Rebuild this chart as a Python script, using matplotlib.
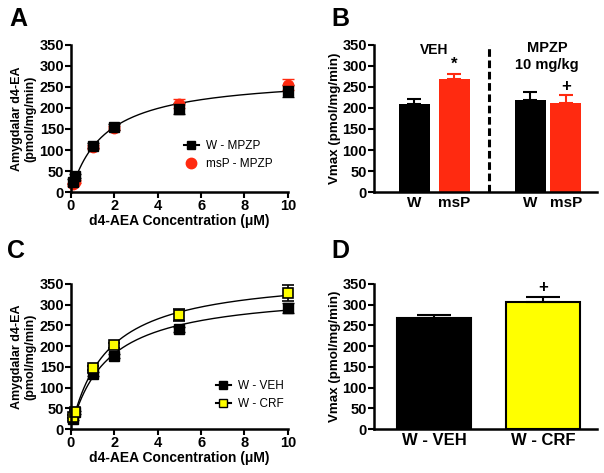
import matplotlib.pyplot as plt
import numpy as np

plt.rcParams['font.family'] = ['Liberation Sans', 'DejaVu Sans']
plt.rcParams['font.weight'] = 'bold'
plt.rcParams['axes.labelweight'] = 'bold'

# substrate concentrations (uM)
conc = [0.1, 0.2, 1, 2, 5, 10]

# panel A
w_mpzp = [25, 38, 110, 155, 198, 240]
w_mpzp_err = [5, 5, 6, 7, 13, 15]
msp_mpzp = [18, 25, 107, 152, 210, 255]
msp_mpzp_err = [4, 4, 5, 5, 11, 13]
fit_a = (278, 1.59)  # Vmax, Km

# panel B
b_labels = ['W', 'msP', 'W', 'msP']
b_vmax = [210, 270, 220, 213]
b_err = [12, 10, 18, 19]

# panel C
w_veh = [25, 40, 133, 177, 240, 292]
w_veh_err = [4, 4, 5, 5, 7, 12]
w_crf = [30, 42, 148, 202, 275, 328]
w_crf_err = [4, 4, 5, 6, 14, 20]
fit_veh = (335, 1.69)
fit_crf = (376, 1.67)

# panel D
d_labels = ['W - VEH', 'W - CRF']
d_vmax = [267, 305]
d_err = [7, 12]

RED = '#ff2a10'
YEL = '#ffff00'

fig = plt.figure(figsize=(6.04, 4.73), dpi=100)
axA = fig.add_axes([0.1175, 0.594, 0.359, 0.311])
axB = fig.add_axes([0.619, 0.594, 0.369, 0.311])
axC = fig.add_axes([0.1175, 0.093, 0.359, 0.307])
axD = fig.add_axes([0.619, 0.093, 0.369, 0.307])


def style(ax):
    for s in ['top', 'right']:
        ax.spines[s].set_visible(False)
    for s in ['left', 'bottom']:
        ax.spines[s].set_linewidth(1.8)
    ax.tick_params(width=1.5, length=4, labelsize=10.5, pad=1)
    ax.set_ylim(0, 350)
    ax.set_yticks(np.arange(0, 351, 50))


def mm(p, x):
    return p[0] * x / (p[1] + x)


xs = np.linspace(0.1, 10, 200)
leg_font = {'weight': 'normal', 'size': 8.5}

# A
style(axA)
axA.plot(xs, mm(fit_a, xs), color='black', lw=1)
axA.errorbar(conc, msp_mpzp, yerr=msp_mpzp_err, fmt='o', color=RED, ms=7.5,
             capsize=4, elinewidth=1.2, clip_on=False)
axA.errorbar(conc, w_mpzp, yerr=w_mpzp_err, fmt='s', color='black', ms=7,
             capsize=4, elinewidth=1.2, clip_on=False)
hA1, = axA.plot([], [], 's-', color='black', ms=6, lw=1.5)
hA2, = axA.plot([], [], 'o', color=RED, ms=7.5)
axA.set_xlim(0, 10)
axA.set_xticks(range(0, 11, 2))
axA.set_xlabel('d4-AEA Concentration (\u03bcM)', fontsize=10, labelpad=1)
axA.set_ylabel('Amygdalar d4-EA\n(pmol/mg/min)', fontsize=9, labelpad=2)
axA.legend([hA1, hA2], ['W - MPZP', 'msP - MPZP'], loc='lower right',
           bbox_to_anchor=(0.98, 0.08), frameon=False, prop=leg_font,
           handlelength=1.3, handletextpad=0.6, labelspacing=0.45)

# B
style(axB)
bx = [1.3, 2.6, 5.05, 6.2]
bcol = ['black', RED, 'black', RED]
axB.bar(bx, b_vmax, width=1.0, color=bcol)
for x, v, e, c in zip(bx, b_vmax, b_err, bcol):
    axB.errorbar([x], [v], yerr=[[0], [e]], fmt='none', ecolor=c, capsize=5,
                 elinewidth=1.5, capthick=1.5)
axB.axvline(3.71, ymin=0, ymax=1.0, color='black', ls=(0, (2.5, 1.2)), lw=2.2)
axB.set_xlim(0, 7.2)
axB.set_xticks(bx)
axB.set_xticklabels(b_labels, fontsize=11)
axB.tick_params(axis='x', length=0, pad=3)
axB.set_ylabel('Vmax (pmol/mg/min)', fontsize=9.6, labelpad=1)
axB.text(1.95, 338, 'VEH', ha='center', va='center', fontsize=10)
axB.text(2.6, 303, '*', ha='center', va='center', fontsize=12)
axB.text(5.6, 323, 'MPZP\n10 mg/kg', ha='center', va='center', fontsize=10.5,
         linespacing=1.25)
axB.text(6.2, 252, '+', ha='center', va='center', fontsize=12)

# C
style(axC)
axC.plot(xs, mm(fit_veh, xs), color='black', lw=1)
axC.plot(xs, mm(fit_crf, xs), color='black', lw=1)
axC.errorbar(conc, w_veh, yerr=w_veh_err, fmt='s', color='black', ms=7,
             capsize=4, elinewidth=1.2, clip_on=False)
axC.errorbar(conc, w_crf, yerr=w_crf_err, fmt='s', mfc=YEL, mec='black',
             mew=1.2, ecolor='black', ms=7, capsize=4, elinewidth=1.2,
             clip_on=False)
hC1, = axC.plot([], [], 's-', color='black', ms=6, lw=1.5)
hC2, = axC.plot([], [], 's-', color='black', mfc=YEL, ms=6, lw=1.5)
axC.set_xlim(0, 10)
axC.set_xticks(range(0, 11, 2))
axC.set_xlabel('d4-AEA Concentration (\u03bcM)', fontsize=10, labelpad=1)
axC.set_ylabel('Amygdalar d4-EA\n(pmol/mg/min)', fontsize=9, labelpad=2)
axC.legend([hC1, hC2], ['W - VEH', 'W - CRF'], loc='lower right',
           bbox_to_anchor=(1.03, 0.06), frameon=False, prop=leg_font,
           handlelength=1.3, handletextpad=0.6, labelspacing=0.45)

# D
style(axD)
dx = [0.81, 2.28]
axD.bar(dx, d_vmax, width=1.0, color=['black', YEL], edgecolor='black',
        linewidth=1.5)
axD.errorbar(dx, d_vmax, yerr=[[0, 0], d_err], fmt='none', ecolor='black',
             capsize=12, elinewidth=1.5, capthick=1.5)
axD.set_xlim(0, 3)
axD.set_xticks(dx)
axD.set_xticklabels(d_labels, fontsize=12)
axD.tick_params(axis='x', length=0, pad=3)
axD.set_ylabel('Vmax (pmol/mg/min)', fontsize=9.6, labelpad=1)
axD.text(2.28, 340, '+', ha='center', va='center', fontsize=12)

for lab, x, y in [('A', 0.015, 0.985), ('B', 0.548, 0.985),
                  ('C', 0.012, 0.495), ('D', 0.548, 0.495)]:
    fig.text(x, y, lab, fontsize=18, fontweight='bold', va='top')

fig.savefig('out.png', dpi=100)
